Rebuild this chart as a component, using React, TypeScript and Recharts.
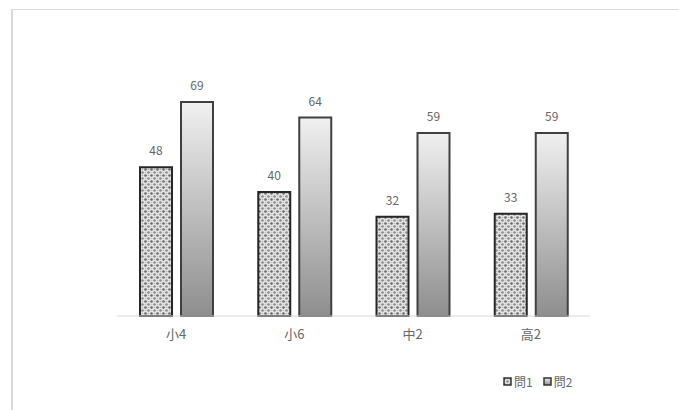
import { BarChart, Bar, XAxis, YAxis, LabelList, Legend } from "recharts";

const categories = ["小4", "小6", "中2", "高2"];
const q1 = [48, 40, 32, 33];
const q2 = [69, 64, 59, 59];

const data = categories.map((name, i) => ({ name, q1: q1[i], q2: q2[i] }));

const FONT = "'Noto Sans CJK JP', 'Noto Sans', sans-serif";
const TEXT = "#666666";

function LegendBox() {
  const items = [
    { label: "問1", fill: "url(#dots)" },
    { label: "問2", fill: "url(#fade)" },
  ];
  return (
    <div style={{ display: "flex", gap: 10, fontFamily: FONT, fontSize: 12, color: TEXT }}>
      {items.map((it) => (
        <div key={it.label} style={{ display: "flex", alignItems: "center", gap: 2 }}>
          <svg width={9} height={9}>
            <rect x={1} y={1} width={7} height={7} fill={it.fill} stroke="#333" strokeWidth={1.5} />
          </svg>
          <span>{it.label}</span>
        </div>
      ))}
    </div>
  );
}

export default function App() {
  return (
    <div style={{ position: "fixed", inset: 0, background: "#fff", overflow: "hidden" }}>
      {/* outer frame: only the top and left edges fall inside the view */}
      <div
        style={{
          position: "absolute",
          left: 11,
          top: 9,
          width: 1200,
          height: 900,
          borderTop: "1px solid #d9d9d9",
          borderLeft: "2px solid #d9d9d9",
        }}
      />
      <div style={{ position: "absolute", left: 0, top: 0 }}>
        <BarChart
          width={679}
          height={410}
          data={data}
          margin={{ top: 68, right: 89, left: 117, bottom: 64 }}
          barSize={32}
          barGap={9}
        >
          <defs>
            <pattern id="dots" width="6" height="6" patternUnits="userSpaceOnUse">
              <rect width="6" height="6" fill="#e6e6e6" />
              <circle cx="1.5" cy="1.5" r="1.3" fill="#6a6a6a" />
              <circle cx="4.5" cy="4.5" r="1.3" fill="#8a8a8a" />
              <circle cx="4.5" cy="1.5" r="0.8" fill="#b0b0b0" />
              <circle cx="1.5" cy="4.5" r="0.8" fill="#c0c0c0" />
            </pattern>
            <linearGradient id="fade" x1="0" y1="0" x2="0" y2="1">
              <stop offset="0%" stopColor="#f0f0f0" />
              <stop offset="100%" stopColor="#8e8e8e" />
            </linearGradient>
          </defs>
          <XAxis
            dataKey="name"
            height={30}
            tickLine={false}
            axisLine={{ stroke: "#d9d9d9" }}
            tick={{ fill: TEXT, fontSize: 13, fontFamily: FONT }}
            tickMargin={8}
          />
          <YAxis hide domain={[0, 80]} />
          <Legend
            verticalAlign="middle"
            content={() => <LegendBox />}
            wrapperStyle={{ position: "absolute", left: 503, top: 373, width: "auto" }}
          />
          <Bar dataKey="q1" fill="url(#dots)" stroke="#262626" strokeWidth={2} isAnimationActive={false}>
            <LabelList dataKey="q1" position="top" offset={12} fill={TEXT} fontSize={12} fontFamily={FONT} />
          </Bar>
          <Bar dataKey="q2" fill="url(#fade)" stroke="#404040" strokeWidth={2} isAnimationActive={false}>
            <LabelList dataKey="q2" position="top" offset={12} fill={TEXT} fontSize={12} fontFamily={FONT} />
          </Bar>
        </BarChart>
      </div>
    </div>
  );
}
